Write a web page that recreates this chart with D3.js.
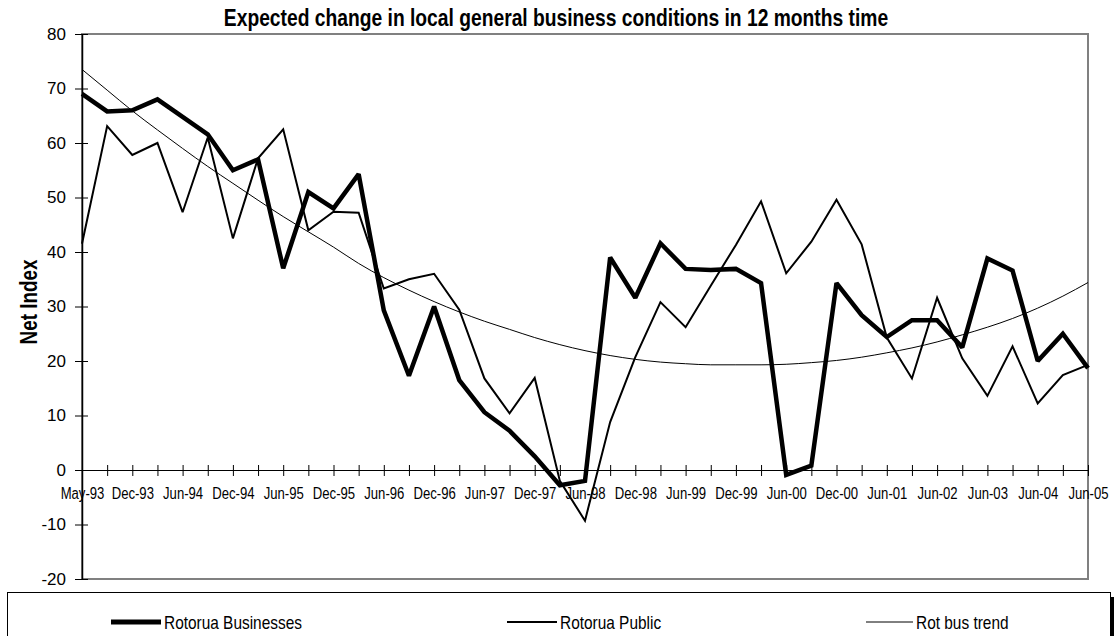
<!DOCTYPE html>
<html>
<head>
<meta charset="utf-8">
<script src="https://cdn.jsdelivr.net/npm/d3@7"></script>
<style>
  html, body { margin: 0; padding: 0; background: #fff; }
  svg { display: block; }
</style>
</head>
<body>
<svg id="chart" width="1114" height="636"></svg>
<script>
const categories = [
  "May-93","Sep-93","Dec-93","Mar-94","Jun-94","Sep-94","Dec-94","Mar-95","Jun-95","Sep-95",
  "Dec-95","Mar-96","Jun-96","Sep-96","Dec-96","Mar-97","Jun-97","Sep-97","Dec-97","Mar-98",
  "Jun-98","Sep-98","Dec-98","Mar-99","Jun-99","Sep-99","Dec-99","Mar-00","Jun-00","Sep-00",
  "Dec-00","Mar-01","Jun-01","Dec-01","Jun-02","Dec-02","Jun-03","Dec-03","Jun-04","Dec-04","Jun-05"
];
const rotoruaBusinesses = [
  69, 65.8, 66, 68, 64.8, 61.6, 55, 57, 37, 51,
  48, 54.3, 29.3, 17.3, 30, 16.5, 10.6, 7.2, 2.5, -2.8,
  -2, 39, 31.6, 41.6, 36.9, 36.7, 36.9, 34.3, -0.9, 0.8,
  34.3, 28.4, 24.4, 27.5, 27.5, 22.5, 38.8, 36.6, 20, 25, 18.7
];
const rotoruaPublic = [
  41.5, 63.1, 57.8, 60, 47.3, 61, 42.5, 57.2, 62.5, 44,
  47.4, 47.2, 33.3, 35, 36, 29.4, 16.8, 10.4, 16.9, -2,
  -9.3, 8.8, 20.7, 30.8, 26.2, 33.8, 41.3, 49.3, 36.1, 41.9,
  49.6, 41.4, 24.3, 16.8, 31.6, 20.5, 13.6, 22.7, 12.2, 17.4, 19.3
];
const rotBusTrend = [
  73.5, 69.7, 65.9, 62.4, 59.0, 55.7, 52.6, 49.5, 46.5, 43.7,
  40.9, 37.9, 35.3, 33.0, 30.9, 29.0, 27.3, 25.8, 24.3, 23.0,
  21.9, 21.0, 20.3, 19.8, 19.5, 19.3, 19.3, 19.3, 19.4, 19.7,
  20.1, 20.7, 21.5, 22.4, 23.5, 24.8, 26.2, 27.8, 29.7, 31.9, 34.4
];
const yTicks = [-20, -10, 0, 10, 20, 30, 40, 50, 60, 70, 80];
const seriesNames = ["Rotorua Businesses", "Rotorua Public", "Rot bus trend"];
const titleText = "Expected change in local general business conditions in 12 months time";
const yTitle = "Net Index";

// Arial-Narrow look: Liberation Sans squeezed horizontally
const FONT = "'Liberation Sans',Arial,sans-serif";
const NARROW_SCALE = 0.82;

const svg = d3.select("#chart");
const plotL = 82, plotR = 1088, plotT = 34, plotB = 579;

const x = d3.scalePoint().domain(categories).range([plotL, plotR]);
const y = d3.scaleLinear().domain([-20, 80]).range([plotB, plotT]);

// Title
svg.append("g")
  .attr("transform", `translate(556,26) scale(${NARROW_SCALE},1)`)
  .append("text")
  .attr("text-anchor", "middle")
  .style("font-family", FONT).style("font-weight", "bold").style("font-size", "23.5px")
  .text(titleText);

// Plot area border (grey)
svg.append("rect")
  .attr("x", plotL).attr("y", plotT)
  .attr("width", plotR - plotL).attr("height", plotB - plotT)
  .attr("fill", "none").attr("stroke", "#808080").attr("stroke-width", 2);

// Y axis
const yAxis = svg.append("g")
  .attr("transform", `translate(${plotL},0)`)
  .call(d3.axisLeft(y).tickValues(yTicks).tickSize(6).tickSizeOuter(0).tickFormat(d => String(d)));
yAxis.select(".domain").attr("stroke", "#000").attr("stroke-width", 1.5);
yAxis.selectAll(".tick line").attr("x1", -7).attr("x2", 6).attr("stroke", "#000");
yAxis.selectAll(".tick text")
  .attr("x", -16)
  .style("font-family", FONT).style("font-size", "17px").attr("fill", "#000");

// Y axis title
svg.append("g")
  .attr("transform", `translate(37,302) rotate(-90) scale(${NARROW_SCALE},1)`)
  .append("text")
  .attr("text-anchor", "middle")
  .style("font-family", FONT).style("font-weight", "bold").style("font-size", "23px")
  .text(yTitle);

// X axis at y = 0
const xAxis = svg.append("g")
  .attr("transform", `translate(0,${y(0)})`)
  .call(d3.axisBottom(x).tickSize(5).tickSizeOuter(0)
    .tickFormat((d, i) => (i % 2 === 0 ? d : "")));
xAxis.select(".domain").attr("stroke", "#000").attr("stroke-width", 1);
xAxis.selectAll(".tick line").attr("y1", -5).attr("y2", 6).attr("stroke", "#000");
xAxis.selectAll(".tick text")
  .attr("y", 18)
  .attr("transform", `scale(${NARROW_SCALE},1)`)
  .style("font-family", FONT).style("font-size", "16px").attr("fill", "#000");

// Lines
function lineFor(values, curve) {
  return d3.line()
    .x((d, i) => x(categories[i]))
    .y(d => y(d))
    .curve(curve || d3.curveLinear)(values);
}

svg.append("path")
  .attr("d", lineFor(rotBusTrend, d3.curveMonotoneX))
  .attr("fill", "none").attr("stroke", "#000").attr("stroke-width", 1);

svg.append("path")
  .attr("d", lineFor(rotoruaPublic))
  .attr("fill", "none").attr("stroke", "#000").attr("stroke-width", 2)
  .attr("stroke-linejoin", "miter").attr("stroke-miterlimit", 3);

svg.append("path")
  .attr("d", lineFor(rotoruaBusinesses))
  .attr("fill", "none").attr("stroke", "#000").attr("stroke-width", 4.5)
  .attr("stroke-linejoin", "miter").attr("stroke-miterlimit", 2);

// Legend
svg.append("rect")
  .attr("x", 1111).attr("y", 597).attr("width", 3).attr("height", 50).attr("fill", "#000");
svg.append("rect")
  .attr("x", 7.5).attr("y", 592.5).attr("width", 1103).attr("height", 60)
  .attr("fill", "#fff").attr("stroke", "#000").attr("stroke-width", 1);

const legendItems = [
  { name: seriesNames[0], x1: 111, x2: 161, w: 5 },
  { name: seriesNames[1], x1: 507, x2: 557, w: 2 },
  { name: seriesNames[2], x1: 866, x2: 913, w: 1 }
];
const ly = 622;
legendItems.forEach(it => {
  svg.append("line")
    .attr("x1", it.x1).attr("x2", it.x2).attr("y1", ly).attr("y2", ly)
    .attr("stroke", "#000").attr("stroke-width", it.w);
  svg.append("g")
    .attr("transform", `translate(${it.x2 + 3},${ly}) scale(${NARROW_SCALE},1)`)
    .append("text")
    .attr("dy", "0.35em")
    .style("font-family", FONT).style("font-size", "18.8px")
    .text(it.name);
});
</script>
</body>
</html>
